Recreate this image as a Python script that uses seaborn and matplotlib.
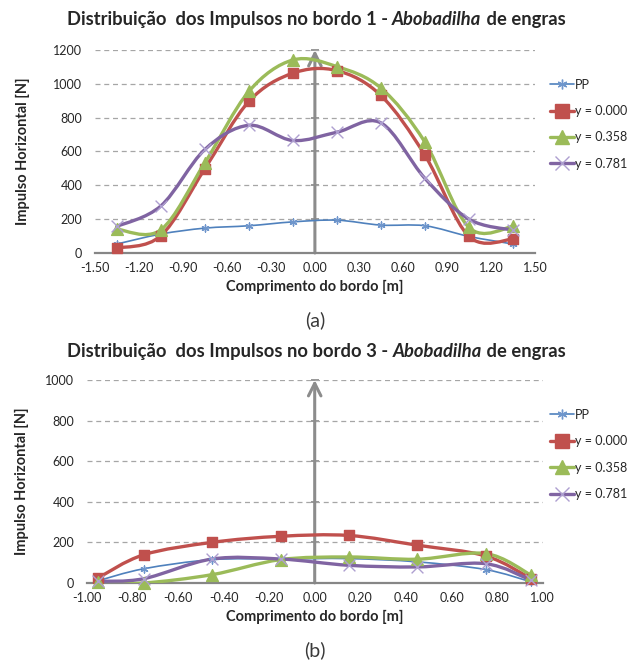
"""
Distribuicao dos impulsos nos bordos 1 e 3 - abobadilha de engras.
Two stacked charts with Excel-like smoothed lines.
"""
import numpy as np
import pandas as pd
import seaborn as sns
import matplotlib.pyplot as plt
from matplotlib.path import Path
from matplotlib.patches import PathPatch
from matplotlib.lines import Line2D
from matplotlib.ticker import MultipleLocator, FuncFormatter

# bordo 1
x_b1 = [-1.35, -1.05, -0.75, -0.45, -0.15, 0.15, 0.45, 0.75, 1.05, 1.35]
pp_b1 = [53, 112, 147, 161, 184, 194, 165, 161, 98, 53]
y000_b1 = [29, 102, 498, 896, 1063, 1078, 931, 578, 98, 82]
y358_b1 = [141, 137, 533, 955, 1141, 1102, 975, 655, 151, 157]
y781_b1 = [157, 278, 612, 755, 665, 714, 769, 441, 200, 135]

# bordo 3
x_b3 = [-0.95, -0.75, -0.45, -0.15, 0.15, 0.45, 0.75, 0.95]
pp_b3 = [11, 70, 115, 118, 120, 104, 66, 5]
y000_b3 = [25, 139, 200, 230, 234, 186, 133, 21]
y358_b3 = [3, 0, 41, 115, 128, 117, 145, 38]
y781_b3 = [8, 21, 118, 118, 87, 79, 95, 13]

labels = ["PP", "y = 0.000", "y = 0.358", "y = 0.781"]

# colour, marker, marker size, line width, marker colour
styles = [
    ("#4F81BD", (6, 2, 0), 5, 1.2, "#6F96CC"),
    ("#C0504D", "s", 7.5, 2.4, "#C0504D"),
    ("#9BBB59", "^", 8.5, 2.4, "#9BBB59"),
    ("#8064A2", "x", 8.5, 2.4, "#AE9FD0"),
]

sns.set_style("white")
plt.rcParams["font.family"] = ["Lato", "DejaVu Sans"]

GRID = "#A6A6A6"
AXC = "#868686"


def smooth_path(x, y):
    # Excel style smoothing: cubic bezier through the points
    pts = np.column_stack([x, y]).astype(float)
    n = len(pts)
    verts = [pts[0]]
    codes = [Path.MOVETO]
    for i in range(n - 1):
        p0 = pts[max(i - 1, 0)]
        p1 = pts[i]
        p2 = pts[i + 1]
        p3 = pts[min(i + 2, n - 1)]
        verts += [p1 + (p2 - p0) / 6, p2 - (p3 - p1) / 6, p2]
        codes += [Path.CURVE4] * 3
    return Path(verts, codes)


def fmt_x(v, pos):
    if abs(v) < 1e-9:
        v = 0.0
    return f"{v:.2f}"


def draw_chart(ax, x, series, xlim, ymax, major, minor, ypad):
    df = pd.DataFrame({"x": x})
    for lab, vals in zip(labels, series):
        df[lab] = vals

    ax.set_xlim(*xlim)
    ax.set_ylim(0, ymax)
    ax.yaxis.set_major_locator(MultipleLocator(200))
    ax.yaxis.grid(True, linestyle=(0, (4, 3)), color=GRID, lw=0.9)
    ax.xaxis.grid(False)
    ax.set_axisbelow(True)

    for sp in ["left", "top", "right"]:
        ax.spines[sp].set_visible(False)
    ax.spines["bottom"].set_color(AXC)
    ax.spines["bottom"].set_linewidth(1.6)

    ax.xaxis.set_major_locator(MultipleLocator(major))
    ax.xaxis.set_minor_locator(MultipleLocator(minor))
    ax.xaxis.set_major_formatter(FuncFormatter(fmt_x))
    ax.tick_params(axis="x", which="major", direction="inout", length=7,
                   width=1.3, color=AXC, labelsize=9, pad=3)
    ax.tick_params(axis="x", which="minor", direction="in", length=3.5,
                   width=1.2, color=AXC)
    ax.tick_params(axis="y", length=0, labelsize=9, pad=9)

    # vertical axis at x = 0 with an arrow head
    sec = ax.secondary_yaxis((0 - xlim[0]) / (xlim[1] - xlim[0]))
    sec.set_yticks(np.arange(0, ymax + 1, 200))
    sec.tick_params(direction="inout", length=6, width=1.2, color=AXC,
                    labelleft=False, labelright=False)
    sec.spines["left"].set_visible(False)
    sec.spines["right"].set_visible(False)
    ax.annotate("", xy=(0, ymax), xytext=(0, 0),
                arrowprops=dict(arrowstyle="->,head_length=0.9,head_width=0.45",
                                color="#8C8C8C", lw=2.2, shrinkA=0, shrinkB=0),
                annotation_clip=False, zorder=2)

    for lab, (col, mk, ms, lw, mc) in zip(labels, styles):
        ax.add_patch(PathPatch(smooth_path(df["x"], df[lab]), fill=False,
                               edgecolor=col, lw=lw, zorder=3,
                               capstyle="round", joinstyle="round"))
        sns.scatterplot(data=df, x="x", y=lab, marker=mk, s=ms ** 2,
                        color=mc, edgecolor=mc, linewidth=1.0,
                        ax=ax, zorder=4, clip_on=False)

    ax.set_xlabel("Comprimento do bordo [m]", fontsize=10.5,
                  fontweight="bold", labelpad=4)
    ax.set_ylabel("Impulso Horizontal [N]", fontsize=10.5,
                  fontweight="bold", labelpad=ypad)

    handles = []
    for col, mk, ms, lw, mc in styles:
        handles.append(Line2D([0], [0], color=col, lw=lw, marker=mk,
                              markersize=ms + 2, markerfacecolor=mc,
                              markeredgecolor=mc))
    return handles


def title(fig, y, bordo):
    parts = [(f"Distribuição  dos Impulsos no bordo {bordo} - ", "normal"),
             ("Abobadilha", "italic"),
             (" de engras", "normal")]
    texts = [fig.text(0.1, y, parts[0][0], fontsize=13.2, fontweight="bold",
                      style=parts[0][1], ha="left", va="baseline")]
    for txt, st in parts[1:]:
        t = fig.axes[0].annotate(txt, xy=(1, 0), xycoords=texts[-1],
                                 fontsize=13.2, fontweight="bold", style=st,
                                 ha="left", va="bottom",
                                 annotation_clip=False)
        texts.append(t)
    fig.canvas.draw()
    r = fig.canvas.get_renderer()
    x0 = texts[0].get_window_extent(r).x0
    x1 = texts[-1].get_window_extent(r).x1
    w = fig.bbox.width
    shift = 0.500 * w - (x0 + x1) / 2
    texts[0].set_x(0.1 + shift / w)


fig = plt.figure(figsize=(6.32, 6.63), dpi=100)
ax1 = fig.add_axes([0.150, 0.6184, 0.6965, 0.3062])
ax2 = fig.add_axes([0.1372, 0.1207, 0.7215, 0.3062])

h1 = draw_chart(ax1, x_b1, [pp_b1, y000_b1, y358_b1, y781_b1],
                (-1.5, 1.5), 1200, 0.30, 0.15, 17)
h2 = draw_chart(ax2, x_b3, [pp_b3, y000_b3, y358_b3, y781_b3],
                (-1.0, 1.0), 1000, 0.20, 0.05, 12)

for h, top in [(h1, 0.889), (h2, 0.391)]:
    fig.legend(h, labels, loc="upper left", bbox_to_anchor=(0.862, top),
               frameon=False, fontsize=9, handlelength=1.9,
               handletextpad=0.1, labelspacing=1.15, borderaxespad=0)

fig.text(0.499, 0.517, "(a)", fontsize=14, ha="center", va="center",
         color="#3A3A3A")
fig.text(0.499, 0.020, "(b)", fontsize=14, ha="center", va="center",
         color="#3A3A3A")

title(fig, 0.963, 1)
title(fig, 0.461, 3)

fig.savefig("out.png", dpi=100)
